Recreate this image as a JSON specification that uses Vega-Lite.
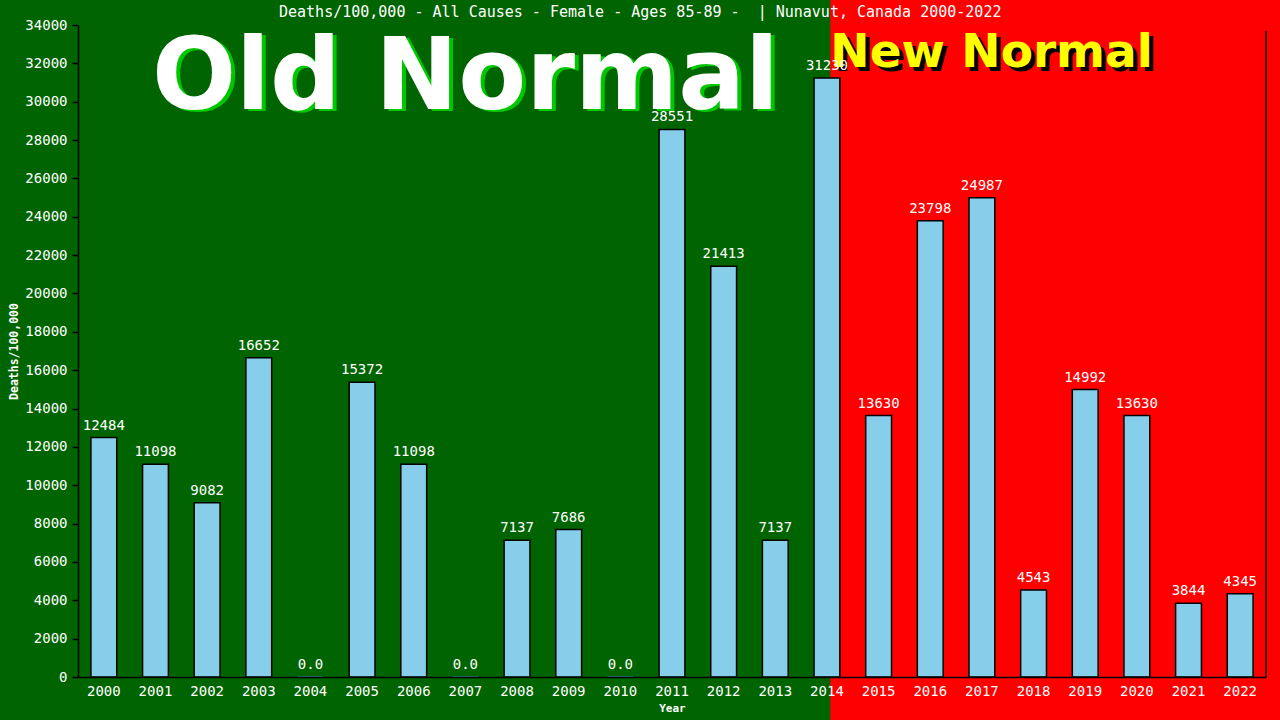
{
  "$schema": "https://vega.github.io/schema/vega-lite/v6.json",
  "autosize": "none",
  "width": 1188,
  "height": 652,
  "padding": {"left": 78, "top": 25, "right": 14, "bottom": 43},
  "background": "#006400",
  "data": {
    "values": [
      {"Year": "2000", "Deaths": 12484, "Label": "12484"},
      {"Year": "2001", "Deaths": 11098, "Label": "11098"},
      {"Year": "2002", "Deaths": 9082, "Label": "9082"},
      {"Year": "2003", "Deaths": 16652, "Label": "16652"},
      {"Year": "2004", "Deaths": 0, "Label": "0.0"},
      {"Year": "2005", "Deaths": 15372, "Label": "15372"},
      {"Year": "2006", "Deaths": 11098, "Label": "11098"},
      {"Year": "2007", "Deaths": 0, "Label": "0.0"},
      {"Year": "2008", "Deaths": 7137, "Label": "7137"},
      {"Year": "2009", "Deaths": 7686, "Label": "7686"},
      {"Year": "2010", "Deaths": 0, "Label": "0.0"},
      {"Year": "2011", "Deaths": 28551, "Label": "28551"},
      {"Year": "2012", "Deaths": 21413, "Label": "21413"},
      {"Year": "2013", "Deaths": 7137, "Label": "7137"},
      {"Year": "2014", "Deaths": 31230, "Label": "31230"},
      {"Year": "2015", "Deaths": 13630, "Label": "13630"},
      {"Year": "2016", "Deaths": 23798, "Label": "23798"},
      {"Year": "2017", "Deaths": 24987, "Label": "24987"},
      {"Year": "2018", "Deaths": 4543, "Label": "4543"},
      {"Year": "2019", "Deaths": 14992, "Label": "14992"},
      {"Year": "2020", "Deaths": 13630, "Label": "13630"},
      {"Year": "2021", "Deaths": 3844, "Label": "3844"},
      {"Year": "2022", "Deaths": 4345, "Label": "4345"}
    ]
  },
  "encoding": {
    "x": {
      "field": "Year",
      "type": "nominal",
      "title": "Year",
      "scale": {"paddingInner": 0.5, "paddingOuter": 0.25},
      "axis": {
        "labelAngle": 0,
        "labelColor": "white",
        "labelFont": "DejaVu Sans Mono",
        "labelFontSize": 14,
        "labelPadding": 7,
        "ticks": false,
        "domainColor": "black",
        "domainWidth": 1.5,
        "titleColor": "white",
        "titleFont": "DejaVu Sans Mono",
        "titleFontSize": 11,
        "titleFontWeight": "bold",
        "titlePadding": 4
      }
    },
    "y": {
      "field": "Deaths",
      "type": "quantitative",
      "title": "Deaths/100,000",
      "scale": {"domain": [0, 34000], "nice": false},
      "axis": {
        "values": [0, 2000, 4000, 6000, 8000, 10000, 12000, 14000, 16000, 18000, 20000, 22000, 24000, 26000, 28000, 30000, 32000, 34000],
        "format": "d",
        "grid": false,
        "labelColor": "white",
        "labelFont": "DejaVu Sans Mono",
        "labelFontSize": 14,
        "labelPadding": 5,
        "tickColor": "black",
        "tickSize": 6,
        "tickWidth": 1.5,
        "domainColor": "black",
        "domainWidth": 1.5,
        "titleColor": "white",
        "titleFont": "DejaVu Sans Mono",
        "titleFontSize": 11.5,
        "titleFontWeight": "bold",
        "titlePadding": 5
      }
    }
  },
  "layer": [
    {
      "transform": [{"filter": "datum.Year == '2000'"}],
      "mark": {"type": "rect", "color": "#FF0000", "x2Offset": 28},
      "encoding": {
        "x": {"datum": "2014", "bandPosition": 0.63},
        "x2": {"datum": "2022", "bandPosition": 1},
        "y": {"datum": 35400},
        "y2": {"datum": -2400}
      }
    },
    {
      "transform": [{"filter": "datum.Year == '2000'"}],
      "mark": {"type": "rule", "color": "black", "strokeWidth": 1.5},
      "encoding": {
        "x": {"datum": "2022", "bandPosition": 1.5},
        "y": {"datum": 0},
        "y2": {"datum": 33700}
      }
    },
    {
      "mark": {"type": "bar", "fill": "#87CEEB", "strokeWidth": 1.5},
      "encoding": {
        "stroke": {
          "condition": {"test": "datum.Deaths == 0", "value": "#4682B4"},
          "value": "black"
        }
      }
    },
    {
      "transform": [{"filter": "datum.Year == '2000'"}],
      "mark": {
        "type": "text",
        "text": "Deaths/100,000 - All Causes - Female - Ages 85-89 -\u00a0 | Nunavut, Canada 2000-2022",
        "font": "DejaVu Sans Mono",
        "fontSize": 15,
        "color": "white",
        "align": "center",
        "baseline": "middle"
      },
      "encoding": {"x": {"datum": "2010", "bandPosition": 1.27}, "y": {"datum": 34680}}
    },
    {
      "transform": [{"filter": "datum.Year == '2000'"}],
      "mark": {
        "type": "text",
        "text": "Old Normal",
        "font": "DejaVu Sans",
        "fontSize": 99,
        "fontWeight": "bold",
        "color": "#00C800",
        "align": "center",
        "baseline": "alphabetic",
        "dx": 4,
        "dy": 2
      },
      "encoding": {"x": {"datum": "2007"}, "y": {"datum": 29600}}
    },
    {
      "transform": [{"filter": "datum.Year == '2000'"}],
      "mark": {
        "type": "text",
        "text": "Old Normal",
        "font": "DejaVu Sans",
        "fontSize": 99,
        "fontWeight": "bold",
        "color": "white",
        "align": "center",
        "baseline": "alphabetic"
      },
      "encoding": {"x": {"datum": "2007"}, "y": {"datum": 29600}}
    },
    {
      "transform": [{"filter": "datum.Year == '2000'"}],
      "mark": {
        "type": "text",
        "text": "New Normal",
        "font": "DejaVu Sans",
        "fontSize": 47,
        "fontWeight": "bold",
        "color": "black",
        "align": "left",
        "baseline": "alphabetic",
        "dx": 4,
        "dy": 4
      },
      "encoding": {"x": {"datum": "2014", "bandPosition": 0.63}, "y": {"datum": 31810}}
    },
    {
      "transform": [{"filter": "datum.Year == '2000'"}],
      "mark": {
        "type": "text",
        "text": "New Normal",
        "font": "DejaVu Sans",
        "fontSize": 47,
        "fontWeight": "bold",
        "color": "#FFFF00",
        "align": "left",
        "baseline": "alphabetic"
      },
      "encoding": {"x": {"datum": "2014", "bandPosition": 0.63}, "y": {"datum": 31810}}
    },
    {
      "mark": {
        "type": "text",
        "color": "white",
        "font": "DejaVu Sans Mono",
        "fontSize": 14,
        "baseline": "alphabetic",
        "dy": -8
      },
      "encoding": {"text": {"field": "Label", "type": "nominal"}}
    }
  ],
  "config": {"view": {"stroke": null}}
}
